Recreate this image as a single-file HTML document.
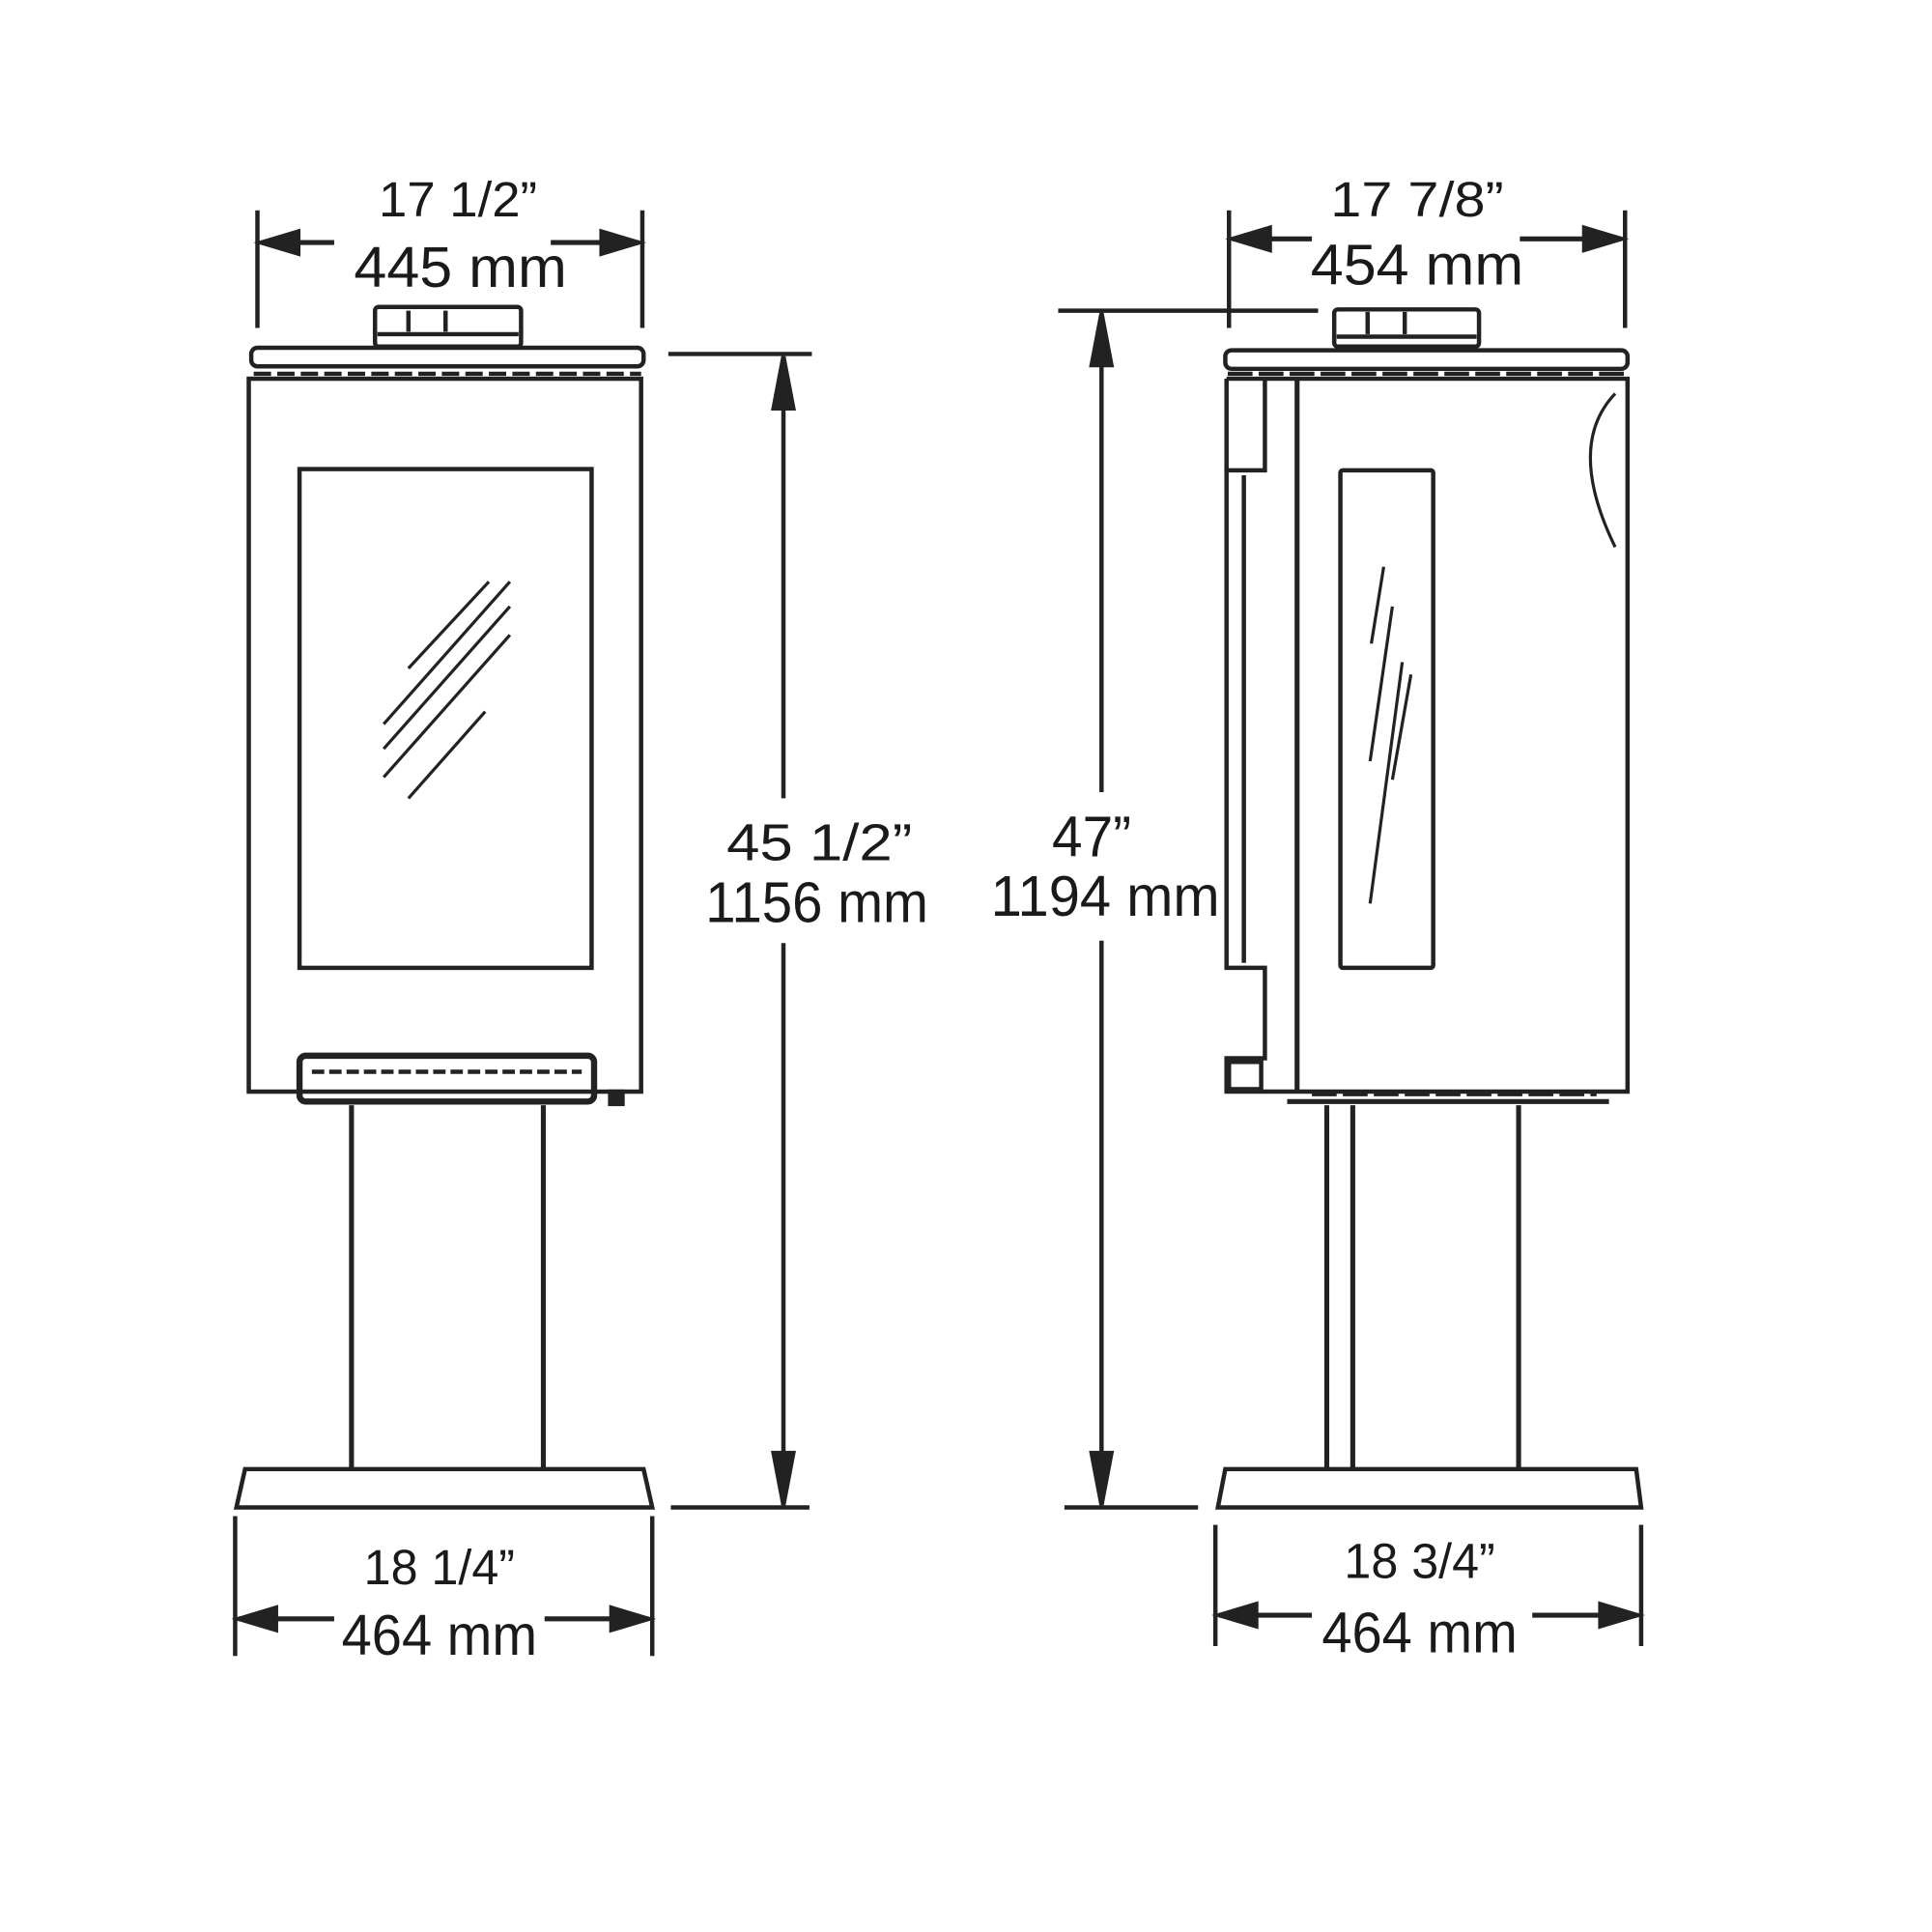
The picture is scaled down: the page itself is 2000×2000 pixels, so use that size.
<!DOCTYPE html>
<html><head><meta charset="utf-8"><style>
html,body{margin:0;padding:0;background:#fff;}
svg{display:block;}
text{font-family:"Liberation Sans",sans-serif;fill:#1a1a1a;text-anchor:middle;}
</style></head><body>
<svg width="2000" height="2000" viewBox="0 0 1561 1561" xmlns="http://www.w3.org/2000/svg">
<g stroke="#222" stroke-width="3.5" fill="none">
<!-- LEFT top dimension -->
<line x1="208" y1="170" x2="208" y2="265"/><line x1="519" y1="170" x2="519" y2="265"/>
<path d="M270,196 L211,196" stroke-width="4"/><path d="M211,196 l30,-9 v18z" fill="#222"/>
<path d="M445,196 L516,196" stroke-width="4"/><path d="M516,196 l-30,-9 v18z" fill="#222"/>
<!-- LEFT flue & top -->
<rect x="303" y="248" width="118" height="32" rx="3"/>
<line x1="305" y1="270" x2="419" y2="270"/>
<line x1="330" y1="251" x2="330" y2="268"/><line x1="360" y1="251" x2="360" y2="268"/>
<rect x="203" y="281" width="317" height="15" rx="5"/>
<line x1="205" y1="302" x2="518" y2="302" stroke-dasharray="14 5"/>
<rect x="201" y="306" width="317" height="576"/>
<rect x="242" y="379" width="236" height="403"/>
<g stroke-width="2.5">
<line x1="310" y1="585" x2="412" y2="470"/><line x1="310" y1="605" x2="412" y2="490"/>
<line x1="310" y1="628" x2="412" y2="513"/><line x1="330" y1="645" x2="392" y2="575"/>
<line x1="330" y1="540" x2="395" y2="470"/>
</g>
<!-- tray -->
<rect x="242" y="853" width="238" height="37" rx="5" stroke-width="5"/>
<line x1="252" y1="866" x2="470" y2="866" stroke-dasharray="10 4"/>
<rect x="493" y="882" width="10" height="10" fill="#222"/>
<!-- pedestal -->
<line x1="284" y1="893" x2="284" y2="1187" stroke-width="4"/><line x1="439" y1="893" x2="439" y2="1187" stroke-width="4"/>
<path d="M198,1187 L520,1187 L527,1218 L191,1218z"/>
<!-- LEFT bottom dim -->
<line x1="190" y1="1225" x2="190" y2="1338"/><line x1="527" y1="1225" x2="527" y2="1338"/>
<path d="M270,1308 L193,1308" stroke-width="4"/><path d="M193,1308 l30,-9 v18z" fill="#222"/>
<path d="M440,1308 L524,1308" stroke-width="4"/><path d="M524,1308 l-30,-9 v18z" fill="#222"/>
<!-- LEFT height dim -->
<line x1="540" y1="286" x2="656" y2="286"/><line x1="542" y1="1218" x2="654" y2="1218"/>
<line x1="633" y1="288" x2="633" y2="645"/><line x1="633" y1="762" x2="633" y2="1216"/>
<path d="M633,288 l-8,42 h16z" fill="#222"/><path d="M633,1216 l-8,-42 h16z" fill="#222"/>

<!-- RIGHT top dimension -->
<line x1="993" y1="170" x2="993" y2="265"/><line x1="1313" y1="170" x2="1313" y2="265"/>
<path d="M1060,193 L996,193" stroke-width="4"/><path d="M996,193 l30,-9 v18z" fill="#222"/>
<path d="M1228,193 L1310,193" stroke-width="4"/><path d="M1310,193 l-30,-9 v18z" fill="#222"/>
<!-- RIGHT flue & top -->
<rect x="1078" y="250" width="117" height="30" rx="3"/>
<line x1="1080" y1="272" x2="1193" y2="272"/>
<line x1="1105" y1="252" x2="1105" y2="270"/><line x1="1135" y1="252" x2="1135" y2="270"/>
<rect x="990" y="283" width="325" height="15" rx="5"/>
<line x1="992" y1="302" x2="1313" y2="302" stroke-dasharray="20 5"/>
<path d="M991,306 L1315,306 L1315,882 L991,882 L991,855 L1022,855 L1022,782 L991,782 L991,380 L1022,380 L1022,306"/>
<path d="M991,306 V380"/>
<line x1="1005" y1="384" x2="1005" y2="778"/>
<line x1="1048" y1="306" x2="1048" y2="882" stroke-width="4"/>
<rect x="993" y="858" width="26" height="22"/>
<rect x="1083" y="380" width="75" height="402" rx="2"/>
<g stroke-width="2.5">
<line x1="1118" y1="458" x2="1108" y2="520"/><line x1="1125" y1="490" x2="1107" y2="615"/>
<line x1="1133" y1="535" x2="1107" y2="730"/><line x1="1140" y1="545" x2="1125" y2="630"/>
</g>
<path d="M1305,318 Q1265,360 1305,442" stroke-width="2.5"/>
<line x1="1040" y1="890" x2="1300" y2="890" stroke-width="4"/>
<line x1="1060" y1="884" x2="1290" y2="884" stroke-dasharray="20 5"/>
<!-- pedestal -->
<line x1="1072" y1="893" x2="1072" y2="1187" stroke-width="4"/><line x1="1093" y1="893" x2="1093" y2="1187" stroke-width="4"/>
<line x1="1227" y1="893" x2="1227" y2="1187" stroke-width="4"/>
<path d="M990,1187 L1322,1187 L1326,1218 L984,1218z"/>
<!-- RIGHT bottom dim -->
<line x1="982" y1="1232" x2="982" y2="1330"/><line x1="1326" y1="1232" x2="1326" y2="1330"/>
<path d="M1060,1305 L985,1305" stroke-width="4"/><path d="M985,1305 l30,-9 v18z" fill="#222"/>
<path d="M1238,1305 L1323,1305" stroke-width="4"/><path d="M1323,1305 l-30,-9 v18z" fill="#222"/>
<!-- RIGHT height dim -->
<line x1="855" y1="251" x2="1065" y2="251"/><line x1="860" y1="1218" x2="968" y2="1218"/>
<line x1="890" y1="253" x2="890" y2="640"/><line x1="890" y1="760" x2="890" y2="1216"/>
<path d="M890,253 l-8,42 h16z" fill="#222"/><path d="M890,1216 l-8,-42 h16z" fill="#222"/>
</g>
<g>
<text x="370" y="175" font-size="40" textLength="128" lengthAdjust="spacingAndGlyphs">17 1/2”</text>
<text x="372" y="232" font-size="46" textLength="172" lengthAdjust="spacingAndGlyphs">445 mm</text>
<text x="1145" y="175" font-size="40" textLength="140" lengthAdjust="spacingAndGlyphs">17 7/8”</text>
<text x="1145" y="230" font-size="46" textLength="172" lengthAdjust="spacingAndGlyphs">454 mm</text>
<text x="662" y="695" font-size="42" textLength="150" lengthAdjust="spacingAndGlyphs">45 1/2”</text>
<text x="660" y="745" font-size="46" textLength="180" lengthAdjust="spacingAndGlyphs">1156 mm</text>
<text x="882" y="692" font-size="46" textLength="64" lengthAdjust="spacingAndGlyphs">47”</text>
<text x="893" y="740" font-size="46" textLength="185" lengthAdjust="spacingAndGlyphs">1194 mm</text>
<text x="355" y="1280" font-size="40" textLength="122" lengthAdjust="spacingAndGlyphs">18 1/4”</text>
<text x="355" y="1337" font-size="46" textLength="158" lengthAdjust="spacingAndGlyphs">464 mm</text>
<text x="1147" y="1275" font-size="40" textLength="122" lengthAdjust="spacingAndGlyphs">18 3/4”</text>
<text x="1147" y="1335" font-size="46" textLength="158" lengthAdjust="spacingAndGlyphs">464 mm</text>
</g>
</svg>
</body></html>
